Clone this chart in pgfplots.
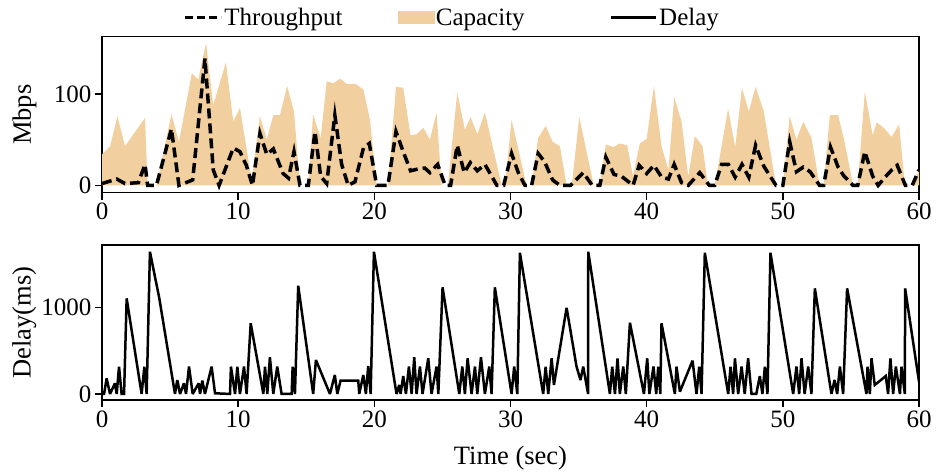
\documentclass[border=0pt]{standalone}
\usepackage{pgfplots}
\pgfplotsset{compat=1.18}
\usepackage{fontspec}
\setmainfont{Liberation Serif}
\definecolor{capcol}{RGB}{241,207,158}
\pgfplotsset{
  myaxis/.style={
    scale only axis, width=817pt,
    xmin=0, xmax=60,
    xtick={0,10,20,30,40,50,60},
    tick align=outside, xtick pos=bottom, ytick pos=left,
    major tick length=7pt,
    tick style={line width=1.5pt, black},
    axis line style={line width=1.6pt},
    /pgf/number format/assume math mode=true,
    /pgf/number format/1000 sep={},
    tick label style={font=\fontsize{25}{30}\selectfont},
    label style={font=\fontsize{26.5}{31}\selectfont},
    ylabel style={at={(axis description cs:-0.095,0.5)}, anchor=center},
  }
}
\begin{document}
\begin{tikzpicture}
\begin{axis}[myaxis, at={(102pt,281.3pt)}, anchor=south west, height=156pt,
  ymin=-8, ymax=163, ytick={0,100}, ylabel={Mbps},
  legend columns=3,
  legend style={draw=none, fill=none, inner sep=0pt, at={(axis description cs:0.1,1.122)}, anchor=west,
    font=\fontsize{25}{30}\selectfont, nodes={inner sep=1.5pt},
    /tikz/every even column/.append style={column sep=54pt}},
]
\addlegendimage{black, line width=3pt, legend image code/.code={\draw[black, line width=3pt, dash pattern=on 8pt off 4pt] (0pt,0pt) -- (36pt,0pt);}}
\addlegendimage{legend image code/.code={\fill[capcol] (0pt,-6pt) rectangle (36pt,6pt);}}
\addlegendimage{black, line width=2.5pt, legend image code/.code={\draw[black, line width=2.5pt] (0pt,0pt) -- (45pt,0pt);}}
\addplot[fill=capcol, draw=none, forget plot] coordinates {
(0,34) (0.6,43) (1.13,76) (1.69,43) (3.16,74) (3.35,0) (4.0,0) (5.1,78) (5.65,48) (6.6,123) (7.07,116) (7.64,156) (8.17,88) (9.1,135) (9.64,70) (10.13,85) (11.0,5) (11.6,76) (12.1,50) (12.58,77) (13.07,77) (13.6,109) (14.1,81) (14.54,0) (15.15,0) (15.5,78) (16.06,52) (16.5,114) (16.98,112) (17.5,117) (18.0,111) (18.65,111) (19.2,105) (19.68,72) (20.17,0) (21.0,0) (21.59,108) (22.12,107) (22.66,55) (23.1,56) (23.6,63) (24.08,50) (24.57,80) (24.94,0) (25.4,0) (26.09,102) (26.65,61) (27.07,75) (27.56,56) (28.12,80) (29.35,0) (29.6,0) (30.08,72) (31.18,0) (31.55,0) (32.03,52) (32.58,65) (33.09,48) (33.63,43) (34.12,0) (34.5,0) (35.05,75) (35.6,36) (36.12,0) (36.56,0) (37.0,45) (37.55,42) (38.03,46) (38.57,44) (39.0,10) (39.5,46) (40.0,51) (40.53,109) (41.09,43) (41.6,17) (42.02,97) (42.56,70) (43.05,10) (43.54,54) (44.1,43) (44.5,0) (45.0,0) (45.98,84) (46.5,42) (47.0,107) (47.5,81) (48.0,108) (48.6,81) (49.5,0) (50.0,0) (50.5,76) (51.0,50) (51.5,70) (52.1,52) (52.7,0) (53.0,0) (53.45,77) (54.06,77) (54.5,50) (55.16,0) (55.5,0) (56.02,103) (56.6,55) (56.9,69) (57.49,62) (57.98,53) (58.54,67) (58.96,0) (59.5,0) (60,17)
} \closedcycle;
\addplot[black, line width=3.5pt, dash pattern=on 10pt off 5pt, forget plot] coordinates {
(0,2) (1.08,7) (1.69,2) (2.67,3) (3.16,23) (3.35,0) (4.0,0) (5.1,62) (5.65,0) (6.66,6) (7.56,139) (8.17,17) (8.6,0) (9.64,41) (10.13,37) (10.6,22) (11.05,0) (11.6,57) (12.1,34) (12.58,40) (13.3,13) (13.7,8) (14.1,37) (14.54,0) (15.15,0) (15.64,59) (16.06,10) (16.5,2) (17.1,77) (17.6,23) (18.08,0) (18.58,4) (19.2,41) (19.63,46) (20.17,0) (21.0,0) (21.59,59) (22.12,37) (22.66,16) (23.2,18) (23.7,19) (24.08,14) (24.65,23) (25.2,0) (25.6,0) (26.09,44) (26.6,14) (27.05,25) (27.56,16) (28.12,23) (29.0,0) (29.5,0) (30.08,35) (30.57,14) (31.06,0) (31.55,0) (32.03,35) (32.5,26) (33.09,6) (33.63,0) (34.4,0) (35.34,14) (36.0,0) (36.56,0) (37.0,31) (37.6,12) (38.15,10) (39.0,0) (39.45,22) (40.0,13) (40.53,22) (41.1,9) (41.6,7) (42.02,23) (42.56,3) (43.05,0) (43.9,14) (44.6,0) (45.0,0) (45.5,23) (46.0,23) (46.5,9) (47.0,23) (47.5,9) (48.0,44) (48.6,21) (49.5,0) (50.0,0) (50.5,48) (51.0,15) (51.5,20) (52.0,15) (52.7,0) (53.0,0) (53.5,42) (54.06,20) (54.5,10) (55.16,0) (55.5,0) (56.02,37) (56.6,10) (57.0,0) (57.5,9) (58.0,17) (58.4,22) (59.0,0) (59.5,0) (60,17)
};
\legend{Throughput, Capacity\hspace*{30pt}, Delay}
\end{axis}
\begin{axis}[myaxis, at={(102pt,74pt)}, anchor=south west, height=155pt,
  ymin=-70, ymax=1727, ytick={0,1000}, ylabel={Delay(ms)}, xlabel={Time (sec)},
  xlabel style={at={(axis description cs:0.5,-0.374)}, anchor=center},
]
\addplot[black, line width=2.5pt, line join=miter, miter limit=3] coordinates {
(0,0) (0.15,0) (0.34,181) (0.59,0) (0.95,124) (1.08,0) (1.25,317) (1.44,0) (1.62,0) (1.81,1108) (2.91,0) (3.11,317) (3.28,0) (3.52,1649) (4.21,1108) (5.36,0) (5.53,162) (5.73,0) (6.02,124) (6.17,0) (6.39,317) (6.66,0) (7.1,124) (7.2,0) (7.37,155) (7.56,0) (8.05,317) (8.3,8) (9.4,0) (9.47,317) (9.77,0) (9.94,317) (10.13,0) (10.43,317) (10.62,0) (10.92,819) (11.85,0) (11.97,317) (12.14,0) (12.33,425) (12.58,0) (12.87,317) (13.19,0) (13.93,0) (14.0,317) (14.17,0) (14.41,1255) (15.51,0) (15.71,394) (16.74,0) (17.1,220) (17.28,0) (17.52,155) (18.82,155) (18.89,0) (19.19,220) (19.38,0) (19.55,324) (19.73,0) (19.97,1649) (21.63,0) (21.83,104) (21.93,0) (22.12,208) (22.32,0) (22.54,317) (22.74,0) (22.93,425) (23.1,0) (23.35,317) (23.54,0) (23.96,413) (24.2,0) (24.57,317) (24.7,0) (25.01,1236) (26.24,0) (26.46,317) (26.65,0) (26.85,413) (27.14,0) (27.39,317) (27.56,0) (27.83,425) (28.12,0) (28.44,317) (28.61,0) (28.85,1236) (30.08,0) (30.27,317) (30.5,0) (30.69,1637) (32.4,0) (32.58,317) (32.77,0) (33.02,413) (33.19,104) (34.12,1000) (34.85,317) (35.14,162) (35.34,317) (35.7,0) (35.71,1649) (37.3,0) (37.47,317) (37.67,0) (37.86,413) (38.03,0) (38.28,317) (38.47,0) (38.77,826) (39.8,0) (40.04,413) (40.2,0) (40.5,317) (40.7,0) (40.85,317) (41.0,0) (41.09,819) (42.07,0) (42.19,317) (42.44,27) (43.37,386) (43.66,0) (43.86,317) (44.03,0) (44.27,1637) (45.99,0) (46.16,317) (46.35,0) (46.48,413) (46.72,0) (46.97,317) (47.2,0) (47.45,413) (47.7,0) (48.05,0) (48.31,208) (48.5,0) (48.68,317) (48.87,0) (49.09,1637) (50.76,0) (51.0,317) (51.2,0) (51.37,413) (51.6,0) (51.86,317) (52.1,0) (52.35,1224) (53.57,0) (53.8,162) (53.99,0) (54.19,317) (54.43,0) (54.72,1224) (56.14,0) (56.22,317) (56.39,0) (56.51,413) (56.75,104) (57.56,208) (57.73,0) (57.9,413) (58.1,0) (58.3,317) (58.6,0) (58.71,317) (58.96,0) (58.98,1224) (60,143)
};
\end{axis}
\pgfresetboundingbox
\path[use as bounding box] (0pt,0pt) rectangle (936pt,474pt);
\end{tikzpicture}
\end{document}
